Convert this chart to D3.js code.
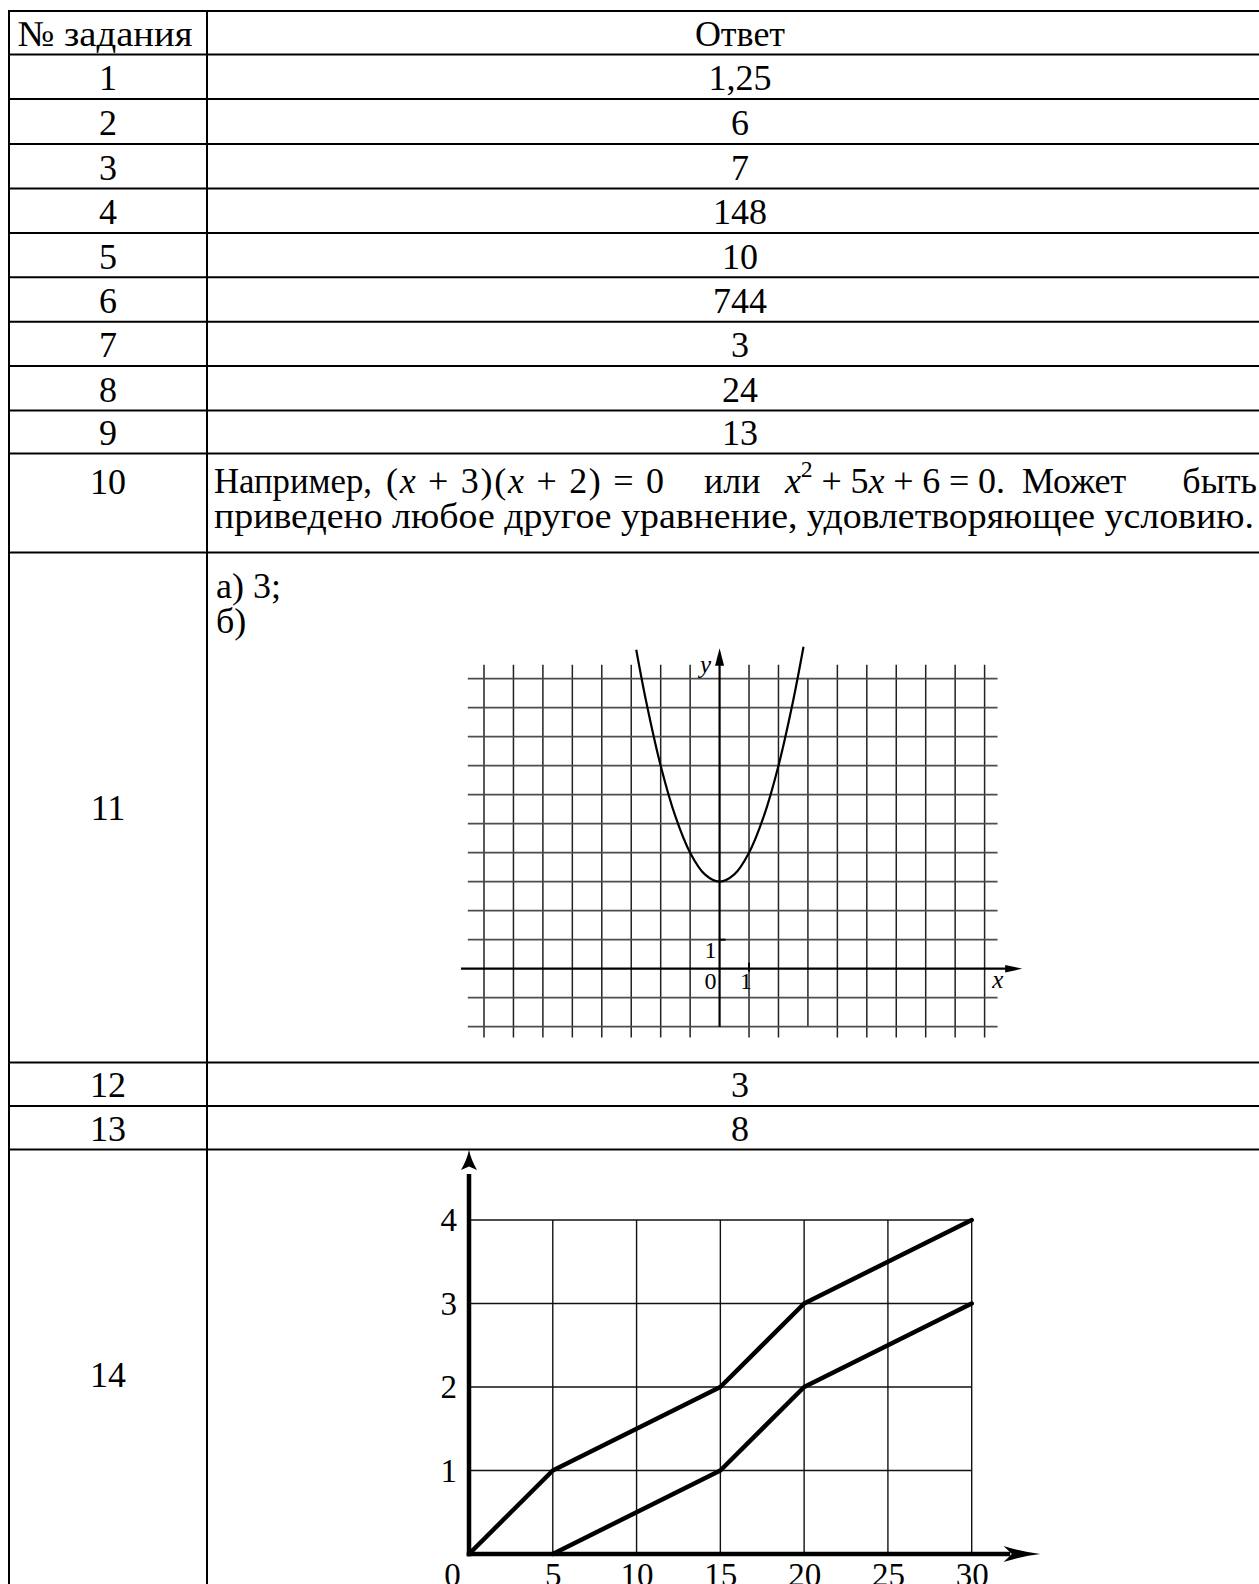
<!DOCTYPE html>
<html>
<head>
<meta charset="utf-8">
<script src="https://cdn.jsdelivr.net/npm/d3@7"></script>
<style>
    html, body { margin: 0; padding: 0; background: #fff; }
    svg { display: block; }
</style>
</head>
<body>
<div id="chart"></div>
<script>
// ---- table content ----
const taskNumbers = ["№ задания", "1", "2", "3", "4", "5", "6", "7", "8", "9", "10", "11", "12", "13", "14"];
const shortAnswers = ["Ответ", "1,25", "6", "7", "148", "10", "744", "3", "24", "13", "", "", "3", "8", ""];
const answer10Words = ["Например,", "(x + 3)(x + 2) = 0", "или", "x^2 + 5x + 6 = 0.", "Может", "быть"];
const answer10Tail = "приведено любое другое уравнение, удовлетворяющее условию.";
const answer11Items = ["а) 3;", "б)"];

// ---- task 11: y = x^2 + 3 ----
const parabolaX = [-2.83, -2.5, -2, -1.5, -1, -0.5, 0, 0.5, 1, 1.5, 2, 2.5, 2.85];
const parabolaY = [11.0, 9.25, 7, 5.25, 4, 3.25, 3, 3.25, 4, 5.25, 7, 9.25, 11.1];
const gridXDomain = [-8, 9];
const gridYDomain = [-2, 10];
const unitLabels = ["0", "1", "1"];

// ---- task 14 ----
const timeTicks = [0, 5, 10, 15, 20, 25, 30];
const valueTicks = [0, 1, 2, 3, 4];
const upperX = [0, 5, 15, 20, 30];
const upperY = [0, 1, 2, 3, 4];
const lowerX = [5, 15, 20, 30];
const lowerY = [0, 1, 2, 3];

class AnswerSheet {
    constructor() {
        const attrs = {
            container: "#chart",
            svgWidth: 1259,
            svgHeight: 1584,
            font: "'Liberation Serif', 'Times New Roman', serif",
            textSize: 36,
            tableLeft: 9,
            tableSplit: 207,
            tableRight: 1273,
            rowLines: [11, 54.5, 99, 144, 188.5, 232.9, 277.3, 321.7, 366.1, 410.5, 453.5, 552.5, 1062.5, 1106, 1149.5, 1600],
            headerWidth: 175,
            line1Y: 493,
            line2Y: 528,
            line2Width: 1040,
            // start of each word on the justified first line (last one is the right end)
            wordStarts: [214, 386, 704, 785, 1022, 1257],
            wordWidths: { 0: 158, 1: 278, 3: 220 },
            itemYs: [598, 633],
            plot11: { left: 484, right: 984.6, top: 678.7, bottom: 1026.7 },
            plot14: { left: 469, right: 971.7, top: 1220, bottom: 1554 }
        };
        this.getState = () => attrs;
        this.setState = (d) => Object.assign(attrs, d);
        this.initializeEnterExitUpdatePattern();
    }

    render() {
        this.drawSvgAndWrappers();
        this.drawTable();
        this.drawTask10();
        this.drawTask11();
        this.drawTask14();
        return this;
    }

    drawSvgAndWrappers() {
        const { container, svgWidth, svgHeight, font } = this.getState();
        const svg = d3.select(container)
            ._add({ tag: "svg", className: "svg-chart-container" })
            .attr("width", svgWidth)
            .attr("height", svgHeight)
            .attr("font-family", font);
        svg._add({ tag: "rect", className: "bg" })
            .attr("width", svgWidth).attr("height", svgHeight).attr("fill", "#fff");
        const chart = svg._add({ tag: "g", className: "chart" });
        this.setState({ svg, chart });
    }

    drawTable() {
        const { chart, rowLines, tableLeft, tableSplit, tableRight, textSize, headerWidth } = this.getState();
        const rows = taskNumbers.map((n, i) => ({
            id: "row" + i, number: n, answer: shortAnswers[i],
            top: rowLines[i], bottom: rowLines[i + 1]
        }));
        const labelY = (d, i) => {
            if (i === 10) return this.getState().line1Y + 1;
            if (d.bottom - d.top > 60) return (d.top + d.bottom) / 2 + 12.5;
            return d.bottom - 8.8;
        };

        chart._add({ tag: "line", className: "row-line", data: rowLines })
            .attr("x1", tableLeft).attr("x2", tableRight)
            .attr("y1", d => d).attr("y2", d => d)
            .attr("stroke", "#000").attr("stroke-width", 2);
        chart._add({ tag: "line", className: "col-line", data: [tableLeft, tableSplit, tableRight] })
            .attr("x1", d => d).attr("x2", d => d)
            .attr("y1", rowLines[0] - 1).attr("y2", rowLines[rowLines.length - 1])
            .attr("stroke", "#000").attr("stroke-width", 2);

        chart._add({ tag: "text", className: "task-number", data: rows })
            .attr("x", (d, i) => i === 0 ? (tableLeft + tableSplit) / 2 - 3 : (tableLeft + tableSplit) / 2)
            .attr("y", labelY)
            .attr("text-anchor", "middle")
            .attr("font-size", textSize)
            .attr("textLength", (d, i) => i === 0 ? headerWidth : null)
            .attr("lengthAdjust", (d, i) => i === 0 ? "spacingAndGlyphs" : null)
            .text(d => d.number);

        chart._add({ tag: "text", className: "task-answer", data: rows.filter(d => d.answer) })
            .attr("x", (tableSplit + tableRight) / 2)
            .attr("y", d => d.bottom - 8.8)
            .attr("text-anchor", "middle")
            .attr("font-size", textSize)
            .text(d => d.answer);
    }

    // writes "x" in italics and "^2" as a superscript
    addMath(sel, str) {
        let raise = false, back = 0;
        for (const ch of str) {
            if (ch === "^") { raise = true; continue; }
            const t = sel.append("tspan").text(ch);
            if (ch === "x") t.attr("font-style", "italic");
            if (back) { t.attr("dy", back); back = 0; }
            if (raise) {
                t.attr("font-size", "0.66em").attr("dy", -16);
                back = 16;
                raise = false;
            }
        }
    }

    drawTask10() {
        const { chart, line1Y, line2Y, line2Width, wordStarts, wordWidths, textSize, itemYs } = this.getState();
        const isMath = d => /x/.test(d);
        const words = chart._add({ tag: "text", className: "answer10-word", data: answer10Words })
            .attr("x", (d, i) => wordStarts[i])
            .attr("y", line1Y)
            .attr("text-anchor", (d, i) => i === answer10Words.length - 1 ? "end" : "start")
            .attr("font-size", textSize)
            .attr("textLength", (d, i) => wordWidths[i] || null)
            .attr("lengthAdjust", (d, i) => wordWidths[i] ? (isMath(d) ? "spacing" : "spacingAndGlyphs") : null)
            .text(d => isMath(d) ? null : d);
        const self = this;
        words.filter(d => isMath(d)).each(function (d) {
            self.addMath(d3.select(this), d);
        });

        chart._add({ tag: "text", className: "answer10-tail" })
            .attr("x", wordStarts[0])
            .attr("y", line2Y)
            .attr("font-size", textSize)
            .attr("textLength", line2Width)
            .attr("lengthAdjust", "spacingAndGlyphs")
            .text(answer10Tail);

        chart._add({ tag: "text", className: "answer11-item", data: answer11Items })
            .attr("x", wordStarts[0] + 2)
            .attr("y", (d, i) => itemYs[i])
            .attr("font-size", textSize)
            .text(d => d);
    }

    drawTask11() {
        const { chart, plot11 } = this.getState();
        const x = d3.scaleLinear().domain(gridXDomain).range([plot11.left, plot11.right]);
        const y = d3.scaleLinear().domain(gridYDomain).range([plot11.bottom, plot11.top]);
        const g = chart._add({ tag: "g", className: "task11" });

        const xs = d3.range(gridXDomain[0], gridXDomain[1] + 1).filter(v => v !== 0);
        const ys = d3.range(gridYDomain[0], gridYDomain[1] + 1).filter(v => v !== 0);

        g._add({ tag: "line", className: "vgrid", data: xs })
            .attr("x1", d => x(d)).attr("x2", d => x(d))
            .attr("y1", d => d === 3 ? y(10) : y(10.48))
            .attr("y2", d => d === 3 ? y(-2) : y(-2.37))
            .attr("stroke", "#222").attr("stroke-width", 1.5);
        g._add({ tag: "line", className: "hgrid", data: ys })
            .attr("x1", x(-8.55)).attr("x2", x(9.44))
            .attr("y1", d => y(d)).attr("y2", d => y(d))
            .attr("stroke", "#4d4d4d").attr("stroke-width", 1.8);

        // axes
        g._add({ tag: "line", className: "x-axis" })
            .attr("x1", x(-8.78)).attr("x2", x(9.8))
            .attr("y1", y(0)).attr("y2", y(0))
            .attr("stroke", "#000").attr("stroke-width", 2.2);
        g._add({ tag: "line", className: "y-axis" })
            .attr("x1", x(0)).attr("x2", x(0))
            .attr("y1", y(-2)).attr("y2", y(10.5))
            .attr("stroke", "#000").attr("stroke-width", 2.2);
        g._add({ tag: "path", className: "x-arrow" })
            .attr("d", `M${x(10.28)},${y(0)} L${x(9.7)},${y(0) - 3.8} L${x(9.7)},${y(0) + 3.8} Z`)
            .attr("fill", "#000");
        g._add({ tag: "path", className: "y-arrow" })
            .attr("d", `M${x(0)},${y(11.05)} L${x(0) - 4.5},${y(10.45)} L${x(0) + 4.5},${y(10.45)} Z`)
            .attr("fill", "#000");
        g._add({ tag: "line", className: "y-tick" })
            .attr("x1", x(0)).attr("x2", x(0) + 6)
            .attr("y1", y(1)).attr("y2", y(1))
            .attr("stroke", "#000").attr("stroke-width", 2);
        g._add({ tag: "line", className: "x-tick" })
            .attr("x1", x(1)).attr("x2", x(1))
            .attr("y1", y(0) - 6).attr("y2", y(0) + 3)
            .attr("stroke", "#000").attr("stroke-width", 2);

        // curve
        const pts = parabolaX.map((v, i) => [v, parabolaY[i]]);
        g._add({ tag: "path", className: "parabola", data: [pts] })
            .attr("d", d3.line().x(d => x(d[0])).y(d => y(d[1])).curve(d3.curveCatmullRom))
            .attr("fill", "none").attr("stroke", "#000").attr("stroke-width", 2.2);

        // labels
        const lab = [
            { t: unitLabels[0], x: x(0) - 9, y: y(0) + 20 },
            { t: unitLabels[1], x: x(0) - 9, y: y(1) + 18 },
            { t: unitLabels[2], x: x(1) - 3, y: y(0) + 20 }
        ];
        g._add({ tag: "text", className: "unit-label", data: lab })
            .attr("x", d => d.x).attr("y", d => d.y)
            .attr("text-anchor", "middle").attr("font-size", 24)
            .text(d => d.t);
        g._add({ tag: "text", className: "axis-name", data: ["y", "x"] })
            .attr("x", d => d === "y" ? x(0) - 14 : x(9.45))
            .attr("y", d => d === "y" ? y(10.2) : y(0) + 19)
            .attr("text-anchor", "middle").attr("font-size", 25)
            .attr("font-style", "italic")
            .text(d => d);
    }

    drawTask14() {
        const { chart, plot14, font } = this.getState();
        const x = d3.scaleLinear().domain([0, 30]).range([plot14.left, plot14.right]);
        const y = d3.scaleLinear().domain([0, 4]).range([plot14.bottom, plot14.top]);
        const g = chart._add({ tag: "g", className: "task14" });

        g._add({ tag: "line", className: "vgrid14", data: timeTicks.filter(v => v > 0) })
            .attr("x1", d => x(d)).attr("x2", d => x(d))
            .attr("y1", y(0)).attr("y2", y(4))
            .attr("stroke", "#111").attr("stroke-width", 1.4);
        g._add({ tag: "line", className: "hgrid14", data: valueTicks.filter(v => v > 0) })
            .attr("x1", x(0)).attr("x2", x(30))
            .attr("y1", d => y(d)).attr("y2", d => y(d))
            .attr("stroke", "#111").attr("stroke-width", 1.4);

        // tick labels through d3 axes
        const yAxis = g._add({ tag: "g", className: "y-axis14" })
            .attr("transform", `translate(${x(0)},0)`)
            .call(d3.axisLeft(y).tickValues(valueTicks.filter(v => v > 0))
                .tickFormat(d3.format("d")).tickSize(0).tickPadding(12));
        const xAxis = g._add({ tag: "g", className: "x-axis14" })
            .attr("transform", `translate(0,${y(0)})`)
            .call(d3.axisBottom(x).tickValues(timeTicks)
                .tickFormat(d3.format("d")).tickSize(0).tickPadding(9));
        [yAxis, xAxis].forEach(a => {
            a.select(".domain").remove();
            a.selectAll("text").attr("font-family", font)
                .attr("font-size", 33).attr("fill", "#000");
        });
        xAxis.selectAll(".tick").filter(d => d === 0).select("text").attr("dx", -17);

        // thick axes with arrows
        g._add({ tag: "line", className: "axis14-x" })
            .attr("x1", x(0) - 2.2).attr("x2", x(32.3))
            .attr("y1", y(0)).attr("y2", y(0))
            .attr("stroke", "#000").attr("stroke-width", 4.5);
        g._add({ tag: "line", className: "axis14-y" })
            .attr("x1", x(0)).attr("x2", x(0))
            .attr("y1", y(0) + 2.2).attr("y2", y(4.55))
            .attr("stroke", "#000").attr("stroke-width", 4.5);
        g._add({ tag: "path", className: "arrow14-x" })
            .attr("d", `M${x(34.1)},${y(0)} Q${x(33)},${y(0) - 2} ${x(31.9)},${y(0) - 8} L${x(32.4)},${y(0)} L${x(31.9)},${y(0) + 8} Q${x(33)},${y(0) + 2} ${x(34.1)},${y(0)} Z`)
            .attr("fill", "#000");
        g._add({ tag: "path", className: "arrow14-y" })
            .attr("d", `M${x(0)},${y(4.84)} Q${x(0) - 2},${y(4.72)} ${x(0) - 8},${y(4.6)} L${x(0)},${y(4.64)} L${x(0) + 8},${y(4.6)} Q${x(0) + 2},${y(4.72)} ${x(0)},${y(4.84)} Z`)
            .attr("fill", "#000");

        const series = [
            { id: "upper", pts: upperX.map((v, i) => [v, upperY[i]]) },
            { id: "lower", pts: lowerX.map((v, i) => [v, lowerY[i]]) }
        ];
        g._add({ tag: "path", className: "route", data: series })
            .attr("d", d => d3.line().x(p => x(p[0])).y(p => y(p[1]))(d.pts))
            .attr("fill", "none").attr("stroke", "#000")
            .attr("stroke-width", 4.5)
            .attr("stroke-linecap", "round").attr("stroke-linejoin", "round");
    }

    initializeEnterExitUpdatePattern() {
        d3.selection.prototype._add = function (params) {
            var container = this;
            var className = params.className;
            var elementTag = params.tag;
            var data = params.data || [className];
            var selection = container.selectAll("." + className).data(data, (d, i) => {
                if (typeof d === "object" && d && d.id) return d.id;
                return i;
            });
            selection.exit().remove();
            selection = selection.enter().append(elementTag).merge(selection);
            selection.attr("class", className);
            return selection;
        };
    }
}

new AnswerSheet().render();
</script>
</body>
</html>
